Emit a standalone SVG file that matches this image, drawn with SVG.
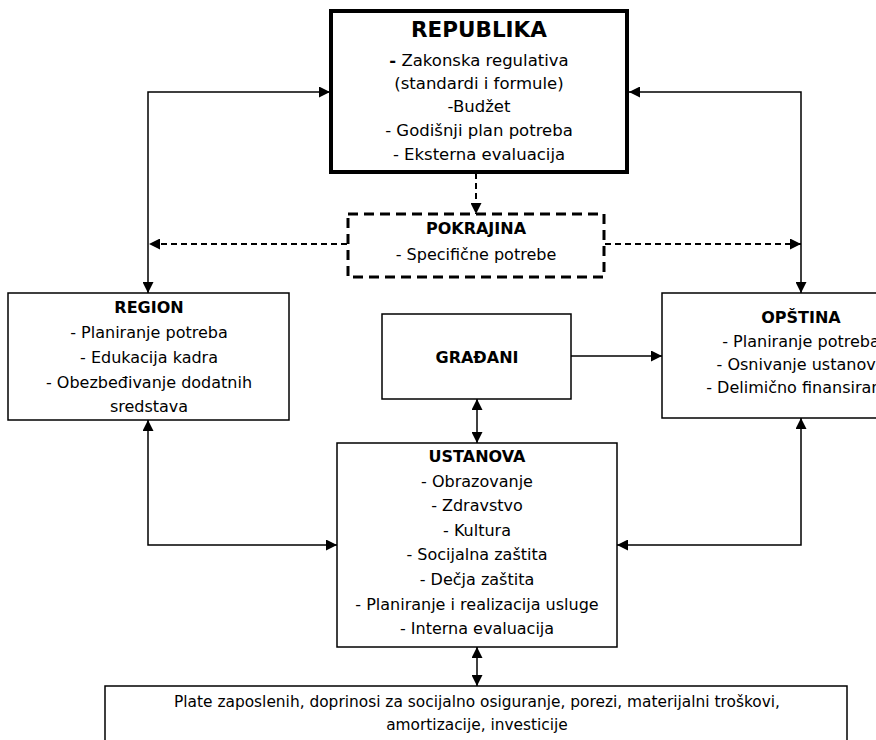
<svg xmlns="http://www.w3.org/2000/svg" width="876" height="740" viewBox="0 0 876 740">
<style>
.box{fill:#fff;stroke:#000;stroke-width:1.5}
.t{font-family:"DejaVu Sans",Verdana,sans-serif;font-size:16px;fill:#000;text-anchor:middle}
.b{font-weight:bold}
.ln{fill:none;stroke:#000;stroke-width:1.5}
.dl{fill:none;stroke:#000;stroke-width:2;stroke-dasharray:6,4}
</style>
<defs>
<marker id="ah" viewBox="0 0 10 10" refX="10" refY="5" markerWidth="11" markerHeight="11" markerUnits="userSpaceOnUse" orient="auto-start-reverse">
<path d="M0,0 L10,5 L0,10 z" fill="#000"/>
</marker>
</defs>
<rect x="0" y="0" width="876" height="740" fill="#fff"/>
<g id="connectors">
<path class="ln" d="M148,293 V92 H330" marker-start="url(#ah)" marker-end="url(#ah)"/>
<path class="ln" d="M629,92 H801 V293" marker-start="url(#ah)" marker-end="url(#ah)"/>
<path class="dl" d="M476,173 V214" marker-end="url(#ah)"/>
<path class="dl" d="M347,244 H149" marker-end="url(#ah)"/>
<path class="dl" d="M605,244 H801" marker-end="url(#ah)"/>
<path class="ln" d="M571,356 H662" marker-end="url(#ah)"/>
<path class="ln" d="M477,399 V443" marker-start="url(#ah)" marker-end="url(#ah)"/>
<path class="ln" d="M148,420 V545 H337" marker-start="url(#ah)" marker-end="url(#ah)"/>
<path class="ln" d="M801,418 V545 H617" marker-start="url(#ah)" marker-end="url(#ah)"/>
<path class="ln" d="M477,647 V686" marker-start="url(#ah)" marker-end="url(#ah)"/>
</g>
<g id="republika">
<rect x="331" y="11" width="296" height="161" fill="#fff" stroke="#000" stroke-width="4"/>
<text class="t b" x="479" y="37" style="font-size:21.5px">REPUBLIKA</text>
<text class="t" x="479" y="66" style="font-size:16.5px"><tspan font-weight="bold">-</tspan> Zakonska regulativa</text>
<text class="t" x="479" y="89" style="font-size:16.5px">(standardi i formule)</text>
<text class="t" x="479" y="112" style="font-size:16.5px">-Budžet</text>
<text class="t" x="479" y="136" style="font-size:16.5px">- Godišnji plan potreba</text>
<text class="t" x="479" y="160" style="font-size:16.5px">- Eksterna evaluacija</text>
</g>
<g id="pokrajina">
<rect x="348" y="214" width="256" height="63" fill="#fff" stroke="#000" stroke-width="3" stroke-dasharray="10,6"/>
<text class="t b" x="476" y="234">POKRAJINA</text>
<text class="t" x="476" y="260">- Specifične potrebe</text>
</g>
<g id="region">
<rect class="box" x="8" y="293" width="281" height="127"/>
<text class="t b" x="149" y="313">REGION</text>
<text class="t" x="149" y="338">- Planiranje potreba</text>
<text class="t" x="149" y="363">- Edukacija kadra</text>
<text class="t" x="149" y="388">- Obezbeđivanje dodatnih</text>
<text class="t" x="149" y="412">sredstava</text>
</g>
<g id="opstina">
<rect class="box" x="662" y="293" width="280" height="125"/>
<text class="t b" x="801" y="323">OPŠTINA</text>
<text class="t" x="801" y="347">- Planiranje potreba</text>
<text class="t" x="801" y="370">- Osnivanje ustanova</text>
<text class="t" x="801" y="393">- Delimično finansiranje</text>
</g>
<g id="gradjani">
<rect class="box" x="382" y="314" width="189" height="85"/>
<text class="t b" x="477" y="363">GRAĐANI</text>
</g>
<g id="ustanova">
<rect class="box" x="337" y="443" width="280" height="204"/>
<text class="t b" x="477" y="462">USTANOVA</text>
<text class="t" x="477" y="487">- Obrazovanje</text>
<text class="t" x="477" y="511">- Zdravstvo</text>
<text class="t" x="477" y="536">- Kultura</text>
<text class="t" x="477" y="560">- Socijalna zaštita</text>
<text class="t" x="477" y="585">- Dečja zaštita</text>
<text class="t" x="477" y="610">- Planiranje i realizacija usluge</text>
<text class="t" x="477" y="634">- Interna evaluacija</text>
</g>
<g id="troskovi">
<rect class="box" x="105" y="686" width="742" height="70"/>
<text class="t" x="477" y="707" style="font-size:15.4px">Plate zaposlenih, doprinosi za socijalno osiguranje, porezi, materijalni troškovi,</text>
<text class="t" x="477" y="730" style="font-size:15.4px">amortizacije, investicije</text>
</g>
</svg>
